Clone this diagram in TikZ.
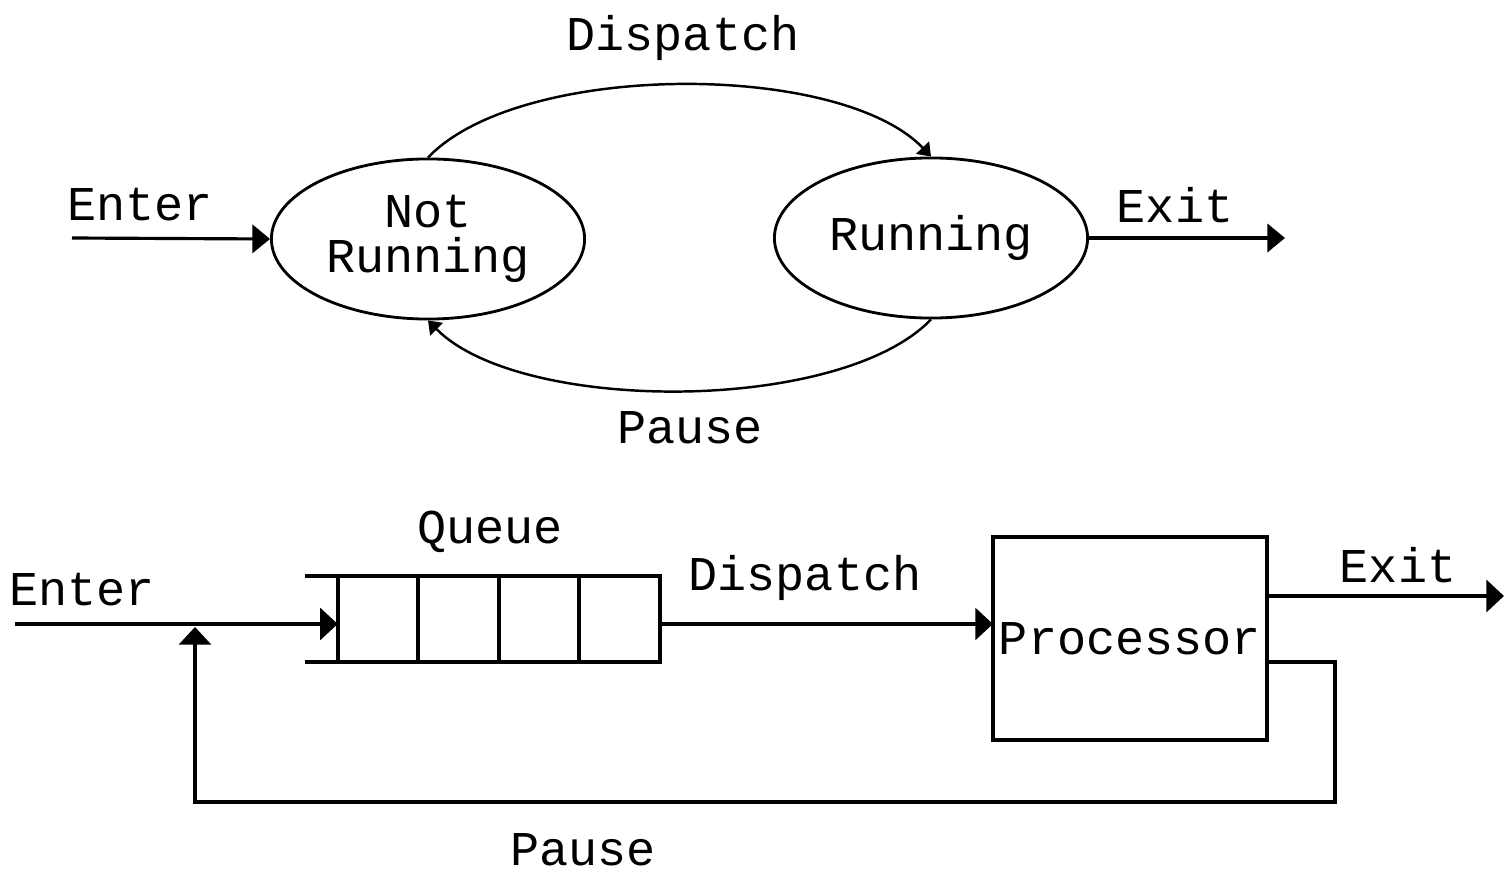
\documentclass[tikz,border=0pt]{standalone}
\usepackage{fontspec}
\setmainfont{Liberation Mono}
\usetikzlibrary{positioning, shapes.geometric, arrows.meta, calc}

\begin{document}
\begin{tikzpicture}[x=0.01cm, y=-0.01cm,
          lbl/.style={font=\fontsize{13.8}{13}\selectfont, inner sep=0pt},
          st/.style={draw, ellipse, line width=0.8pt, minimum width=3.13cm, minimum height=1.6cm, inner sep=0pt, lbl, align=center},
          cell/.style={draw, line width=1.1pt, minimum width=0.805cm, minimum height=0.86cm, inner sep=0pt, outer sep=0pt},
          arr/.style={-{Triangle[length=5pt,width=8pt]}, line width=0.9pt},
          carr/.style={-{Triangle[length=3.5pt,width=5pt]}, line width=0.7pt},
          barr/.style={-{Triangle[length=5pt,width=9pt]}, line width=1.1pt}]
        \useasboundingbox (0,0) rectangle (1506,882);
        % state view
        \node[st] (notrun) at (428,239) {Not\\Running};
        \node[st] (run) at (931,238) {Running};
        \coordinate (tin) at (72,238);
        \coordinate (tout) at (1285,238);
        \draw[arr] (tin) -- (notrun.west);
        \draw[arr] (run.east) -- (tout);
        \draw[carr] (notrun.north) .. controls (520,61) and (840,61) .. (run.north);
        \draw[carr] (run.south) .. controls (840,414) and (520,414) .. (notrun.south);
        \node[lbl] (tenter) at (140,205) {Enter};
        \node[lbl] (texit) at (1175,205) {Exit};
        \node[lbl] (tdisp) at (683,38) {Dispatch};
        \node[lbl] (tpause) at (690,428) {Pause};
        % queue view
        \foreach \i in {0,...,3}
          \node[cell] (q\i) at (378+80.5*\i,619) {};
        \draw[line width=1.1pt] (q0.north west) -- ++(-33,0);
        \draw[line width=1.1pt] (q0.south west) -- ++(-33,0);
        \node[draw, line width=1.1pt, minimum width=2.74cm, minimum height=2.03cm, outer sep=0pt, lbl] (proc) at (1130,638.5) {Processor};
        \coordinate (benter) at (15,624);
        \coordinate (bexit) at (1504,596);
        \coordinate (join) at (195,627);
        \draw[barr] (benter) -- (q0.west |- benter);
        \draw[barr] (q3.east |- benter) -- (proc.west |- benter);
        \draw[barr] (proc.east |- bexit) -- (bexit);
        \draw[barr] (proc.east |- 0,662) -- (1335,662) -- (1335,802) -- (195,802) -- (join);
        \node[lbl] (benterl) at (82,590) {Enter};
        \node[lbl] (queuel) at (490,532) {Queue};
        \node[lbl] (bdisp) at (805,578) {Dispatch};
        \node[lbl] (bexitl) at (1398,565) {Exit};
        \node[lbl] (bpause) at (583,850) {Pause};
      \end{tikzpicture}
\end{document}
